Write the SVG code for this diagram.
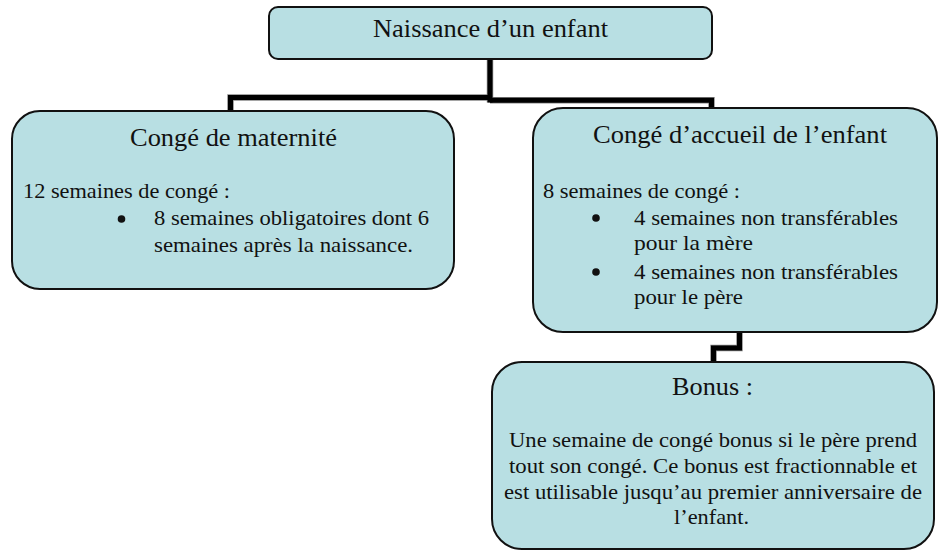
<svg xmlns="http://www.w3.org/2000/svg" xmlns:xlink="http://www.w3.org/1999/xlink" width="939" height="552" viewBox="0 0 939 552" font-family="'Liberation Serif', 'Times New Roman', serif">
<style>
.box{fill:#B8DFE3;stroke:#111;stroke-width:2}
.t{fill:#111}
.h{font-size:25px}
.b{font-size:21px}
.con{fill:none;stroke:#000;stroke-width:5;stroke-linejoin:miter;stroke-linecap:butt}
.halo{fill:none;stroke:#888;stroke-width:6.5;stroke-linejoin:miter;stroke-linecap:butt}
.dot{fill:#111}
</style>
<defs>
<path id="c1" d="M490,59 V102.5"/>
<path id="c2" d="M490,97.5 H230.5 V111"/>
<path id="c3" d="M490,100.2 H711.5 V108"/>
<path id="c4" d="M739.5,332 V348 H713.5 V362"/>
</defs>
<g id="connectors">
<use xlink:href="#c1" class="halo"/>
<use xlink:href="#c2" class="halo"/>
<use xlink:href="#c3" class="halo"/>
<use xlink:href="#c4" class="halo"/>
<use xlink:href="#c1" class="con"/>
<use xlink:href="#c2" class="con"/>
<use xlink:href="#c3" class="con"/>
<use xlink:href="#c4" class="con"/>
</g>
<g id="node-naissance">
<rect class="box" x="269" y="7" width="443" height="52" rx="9"/>
<text class="t h" font-family="Liberation Serif" x="373" y="37" textLength="235" lengthAdjust="spacingAndGlyphs">Naissance d’un enfant</text>
</g>
<g id="node-maternite">
<rect class="box" x="12" y="111" width="442" height="178" rx="28"/>
<text class="t h" font-family="Liberation Serif" x="130" y="146" textLength="207" lengthAdjust="spacingAndGlyphs">Congé de maternité</text>
<text class="t b" font-family="Liberation Serif" x="23" y="198" textLength="207" lengthAdjust="spacingAndGlyphs">12 semaines de congé :</text>
<circle class="dot" cx="121.5" cy="219" r="3.8"/>
<text class="t b" font-family="Liberation Serif" x="154" y="225" textLength="275" lengthAdjust="spacingAndGlyphs">8 semaines obligatoires dont 6</text>
<text class="t b" font-family="Liberation Serif" x="154" y="252" textLength="259" lengthAdjust="spacingAndGlyphs">semaines après la naissance.</text>
</g>
<g id="node-accueil">
<rect class="box" x="533" y="108" width="404" height="224" rx="30"/>
<text class="t h" font-family="Liberation Serif" x="593" y="143" textLength="294" lengthAdjust="spacingAndGlyphs">Congé d’accueil de l’enfant</text>
<text class="t b" font-family="Liberation Serif" x="543" y="198" textLength="197" lengthAdjust="spacingAndGlyphs">8 semaines de congé :</text>
<circle class="dot" cx="596" cy="218" r="3.8"/>
<text class="t b" font-family="Liberation Serif" x="634" y="225" textLength="264" lengthAdjust="spacingAndGlyphs">4 semaines non transférables</text>
<text class="t b" font-family="Liberation Serif" x="634" y="250" textLength="119" lengthAdjust="spacingAndGlyphs">pour la mère</text>
<circle class="dot" cx="596" cy="272" r="3.8"/>
<text class="t b" font-family="Liberation Serif" x="634" y="279" textLength="264" lengthAdjust="spacingAndGlyphs">4 semaines non transférables</text>
<text class="t b" font-family="Liberation Serif" x="634" y="304" textLength="109" lengthAdjust="spacingAndGlyphs">pour le père</text>
</g>
<g id="node-bonus">
<rect class="box" x="492" y="362" width="442" height="187" rx="30"/>
<text class="t h" font-family="Liberation Serif" x="672" y="395" textLength="81" lengthAdjust="spacingAndGlyphs">Bonus :</text>
<text class="t b" font-family="Liberation Serif" x="509" y="447" textLength="408" lengthAdjust="spacingAndGlyphs">Une semaine de congé bonus si le père prend</text>
<text class="t b" font-family="Liberation Serif" x="509" y="473" textLength="408" lengthAdjust="spacingAndGlyphs">tout son congé. Ce bonus est fractionnable et</text>
<text class="t b" font-family="Liberation Serif" x="504" y="499" textLength="418" lengthAdjust="spacingAndGlyphs">est utilisable jusqu’au premier anniversaire de</text>
<text class="t b" font-family="Liberation Serif" x="674" y="524" textLength="75" lengthAdjust="spacingAndGlyphs">l’enfant.</text>
</g>
</svg>
